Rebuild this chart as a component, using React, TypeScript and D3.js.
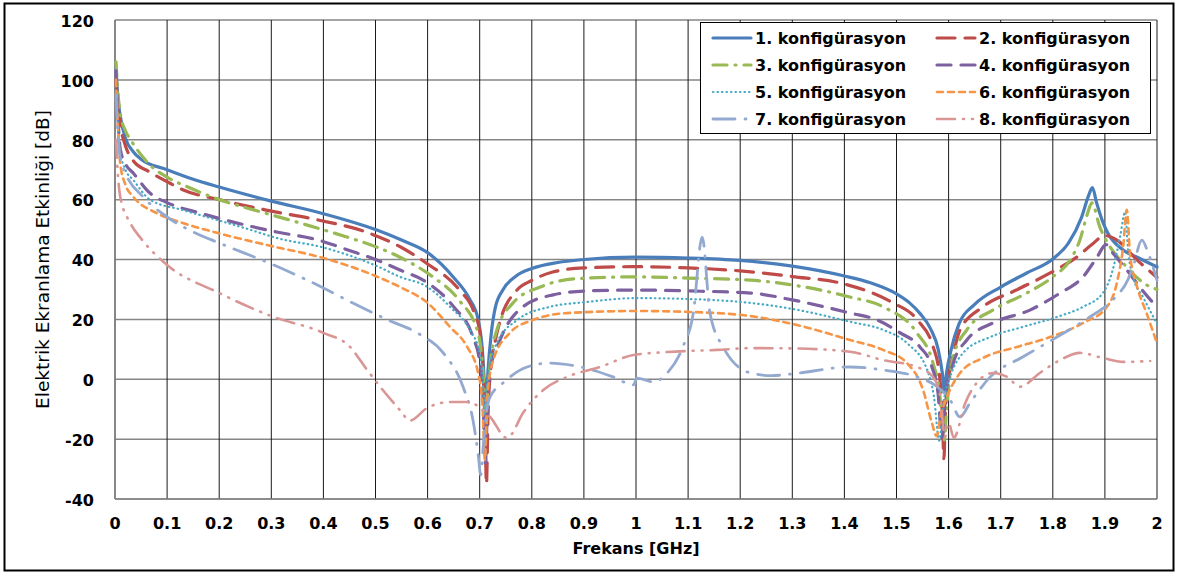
import React from 'react';
import * as d3 from 'd3';

// Frequency (GHz) vs. shielding effectiveness (dB) for each configuration
const konf1: [number, number][] = [
  [0.002, 104], [0.005, 95], [0.01, 88], [0.02, 80.5], [0.035, 76], [0.05, 73.5], [0.1, 70], [0.15, 66.8],
  [0.2, 64.2], [0.3, 59.5], [0.4, 55.3], [0.5, 50], [0.55, 46.5], [0.6, 42.3], [0.65, 34], [0.68, 27],
  [0.697, 20], [0.705, 10], [0.71, -3], [0.713, -6], [0.716, 3], [0.722, 15], [0.73, 24], [0.745, 30],
  [0.77, 34.5], [0.8, 37], [0.85, 39], [0.9, 40], [1.0, 40.8], [1.1, 40.5], [1.2, 39.7], [1.3, 37.8],
  [1.4, 34.5], [1.45, 32.2], [1.5, 28.5], [1.525, 25.5], [1.545, 22], [1.565, 17], [1.58, 10], [1.588, 2], [1.592, -4],
  [1.596, 2], [1.605, 10], [1.62, 18.5], [1.65, 25], [1.7, 30.8], [1.75, 35.5], [1.8, 40.2], [1.83, 45.5],
  [1.855, 54], [1.868, 61], [1.876, 64], [1.884, 59], [1.895, 53], [1.905, 49], [1.935, 43.2], [1.965, 40.5],
  [2.0, 37.5],
];
const konf2: [number, number][] = [
  [0.002, 100], [0.005, 92], [0.01, 85], [0.02, 78], [0.035, 73], [0.067, 69.2], [0.1, 66], [0.13, 63.3],
  [0.2, 60], [0.29, 56.5], [0.39, 53.2], [0.48, 49.3], [0.55, 44], [0.6, 38.5], [0.66, 30], [0.69, 22],
  [0.7, 16], [0.706, 5], [0.71, -15], [0.713, -35], [0.716, -12], [0.722, 5], [0.73, 13], [0.74, 20],
  [0.77, 29.5], [0.8, 33], [0.84, 35.8], [0.9, 37.2], [1.0, 37.6], [1.1, 37.2], [1.2, 36.2], [1.3, 34.3],
  [1.4, 31.8], [1.49, 25.8], [1.54, 19.8], [1.57, 11], [1.582, 2], [1.588, -12], [1.591, -26.5], [1.594, -10],
  [1.6, 0], [1.61, 9], [1.622, 16.5], [1.666, 24.2], [1.73, 29.8], [1.795, 35.5], [1.846, 40.8], [1.875, 45],
  [1.9, 48], [1.923, 46.5], [1.962, 39.8], [2.0, 34],
];
const konf3: [number, number][] = [
  [0.002, 106], [0.005, 97], [0.01, 89], [0.02, 83], [0.03, 80], [0.067, 71.6], [0.1, 67.5], [0.14, 64.2],
  [0.2, 60], [0.28, 55.9], [0.355, 52.2], [0.445, 47.5], [0.5, 44.3], [0.55, 40.5], [0.61, 34.2], [0.66, 26.5],
  [0.697, 15.5], [0.705, 5], [0.71, -8], [0.712, -17], [0.715, -5], [0.72, 5], [0.733, 16.5], [0.764, 25.5],
  [0.816, 30.8], [0.88, 33.5], [1.0, 34.2], [1.1, 33.8], [1.22, 33.1], [1.3, 31.5], [1.41, 27.5], [1.474, 24.2],
  [1.539, 15.5], [1.57, 5.4], [1.583, -5], [1.591, -21], [1.597, -8], [1.609, 7.5], [1.635, 16.5], [1.685, 23.1],
  [1.75, 28.8], [1.8, 34.2], [1.833, 39.8], [1.852, 46.5], [1.866, 55], [1.875, 58.9], [1.89, 51], [1.91, 44.2],
  [1.935, 38.8], [1.98, 31.5], [2.0, 30],
];
const konf4: [number, number][] = [
  [0.002, 103], [0.005, 90], [0.01, 77], [0.02, 72], [0.035, 68.9], [0.067, 62.2], [0.1, 59], [0.163, 55.5],
  [0.227, 52.5], [0.31, 49.2], [0.39, 46.5], [0.45, 43], [0.5, 40], [0.547, 36.5], [0.6, 32.2], [0.65, 24.2],
  [0.687, 14.1], [0.7, 6], [0.706, -5], [0.711, -28], [0.715, -8], [0.72, 3], [0.739, 13.1], [0.783, 24.2],
  [0.841, 28.2], [0.906, 29.5], [1.0, 29.8], [1.1, 29.5], [1.22, 28.8], [1.3, 26.5], [1.411, 22.1], [1.463, 19.8],
  [1.507, 15.5], [1.545, 10.8], [1.568, 4.1], [1.58, -5], [1.587, -19.5], [1.594, -6], [1.609, 5.4], [1.635, 13.1],
  [1.685, 18.8], [1.756, 23.1], [1.814, 28.8], [1.858, 34.2], [1.885, 40.8], [1.902, 45], [1.915, 42.2], [1.942, 36.5],
  [1.967, 30.8], [2.0, 24],
];
const konf5: [number, number][] = [
  [0.002, 98], [0.005, 88], [0.01, 76], [0.02, 70], [0.035, 66.6], [0.067, 60], [0.13, 56.5], [0.196, 53.2],
  [0.26, 49.9], [0.31, 47.2], [0.4, 44], [0.5, 38], [0.547, 34.2], [0.6, 30.8], [0.643, 24.2], [0.681, 16.5],
  [0.7, 8.8], [0.706, 0], [0.71, -12], [0.714, -2], [0.72, 5], [0.733, 12.1], [0.772, 19.8], [0.835, 24.2],
  [0.906, 25.8], [1.0, 27.1], [1.1, 26.8], [1.22, 25.5], [1.3, 23.5], [1.411, 19.2], [1.474, 16.5], [1.52, 12.1],
  [1.559, 3.1], [1.572, -6], [1.582, -20.5], [1.59, -8], [1.603, 0.8], [1.628, 8.8], [1.68, 14.1], [1.743, 17.5],
  [1.808, 20.8], [1.858, 24.2], [1.896, 28.8], [1.915, 36.5], [1.929, 47.5], [1.939, 55.9], [1.944, 44], [1.954, 34.2],
  [1.973, 27.5], [2.0, 18.5],
];
const konf6: [number, number][] = [
  [0.002, 100], [0.005, 87], [0.01, 72], [0.02, 65], [0.035, 61], [0.08, 55.5], [0.13, 52.2], [0.196, 48.9],
  [0.3, 44.5], [0.4, 40.5], [0.5, 34.5], [0.547, 30.8], [0.6, 25.5], [0.643, 17.5], [0.676, 10.8], [0.697, 2.1],
  [0.705, -8], [0.71, -27], [0.715, -5], [0.726, 6.4], [0.758, 15.5], [0.802, 19.8], [0.868, 22.1], [1.0, 22.8],
  [1.1, 22.5], [1.22, 21.1], [1.3, 18.5], [1.411, 13.1], [1.474, 9.8], [1.52, 5.4], [1.551, -3.6], [1.568, -14.6],
  [1.577, -19], [1.585, -12], [1.597, -5.9], [1.622, 2.1], [1.666, 7.1], [1.731, 10.8], [1.795, 14.1], [1.858, 18.8],
  [1.904, 24.2], [1.923, 32.2], [1.935, 44.2], [1.942, 56.6], [1.948, 42.2], [1.962, 30.8], [1.98, 22.1], [2.0, 12],
];
const konf7: [number, number][] = [
  [0.002, 95], [0.005, 84], [0.01, 74], [0.02, 68.9], [0.054, 60.9], [0.1, 54.2], [0.15, 49.2], [0.2, 45.5],
  [0.3, 38.5], [0.4, 30.5], [0.45, 26], [0.528, 19.5], [0.58, 15.5], [0.63, 8.8], [0.668, -2.5], [0.687, -13.6],
  [0.697, -25], [0.702, -32], [0.707, -22], [0.713, -11], [0.72, -5.9], [0.745, -1.2], [0.791, 4.1], [0.835, 5.4],
  [0.893, 4.1], [0.956, 0.8], [0.995, -1.9], [1.002, 0.4], [1.033, -0.9], [1.06, 2.1], [1.09, 10.8], [1.11, 22.1],
  [1.127, 47.5], [1.142, 22.1], [1.167, 10.8], [1.22, 2.1], [1.26, 1.2], [1.3, 1.8], [1.411, 4.1], [1.474, 3.1],
  [1.539, 0.8], [1.578, -2.5], [1.603, -6.9], [1.622, -12.6], [1.641, -7.9], [1.68, 0.8], [1.743, 7.5], [1.808, 14.1],
  [1.871, 20.8], [1.915, 26.5], [1.944, 33.2], [1.954, 37.5], [1.971, 46.5], [1.983, 42.2], [2.0, 33],
];
const konf8: [number, number][] = [
  [0.002, 80], [0.005, 70], [0.01, 61], [0.03, 52], [0.05, 47], [0.1, 38.2], [0.2, 28.8], [0.3, 21.1],
  [0.4, 15.5], [0.45, 11], [0.484, 3.1], [0.514, -3.6], [0.547, -10.3], [0.566, -13.8], [0.599, -9.6], [0.643, -7.6],
  [0.676, -7.6], [0.72, -12.6], [0.752, -19.6], [0.758, -19], [0.783, -11.3], [0.822, -3.6], [0.868, 0.8], [0.931, 4.1],
  [0.995, 8.1], [1.06, 9.1], [1.156, 9.8], [1.22, 10.4], [1.3, 10.3], [1.411, 9.2], [1.474, 6.4], [1.539, 4.1],
  [1.57, 0.8], [1.584, -5.9], [1.593, -19.3], [1.6, -14.6], [1.61, -19.5], [1.632, -7.9], [1.654, -1.2], [1.685, 2.1],
  [1.712, 0.8], [1.737, -2.5], [1.775, 2.1], [1.814, 6.4], [1.852, 8.8], [1.896, 7.1], [1.935, 5.8], [1.987, 6.1],
];

const seriesNames = [
  '1. konfigürasyon', '2. konfigürasyon', '3. konfigürasyon', '4. konfigürasyon',
  '5. konfigürasyon', '6. konfigürasyon', '7. konfigürasyon', '8. konfigürasyon',
];
const seriesData = [konf1, konf2, konf3, konf4, konf5, konf6, konf7, konf8];

const xTickValues = [0, 0.1, 0.2, 0.3, 0.4, 0.5, 0.6, 0.7, 0.8, 0.9, 1, 1.1, 1.2, 1.3, 1.4, 1.5, 1.6, 1.7, 1.8, 1.9, 2];
const xTickLabels = ['0', '0.1', '0.2', '0.3', '0.4', '0.5', '0.6', '0.7', '0.8', '0.9', '1', '1.1', '1.2', '1.3', '1.4', '1.5', '1.6', '1.7', '1.8', '1.9', '2'];
const yTickValues = [-40, -20, 0, 20, 40, 60, 80, 100, 120];

// Line appearance per series (Office-style palette and dash types)
const styles = [
  { color: '#4A7EBB', width: 3.2, dash: 'none' },
  { color: '#BE4B48', width: 3.2, dash: '18 10' },
  { color: '#98B954', width: 3.2, dash: '14 8 1 8' },
  { color: '#7D60A0', width: 3.2, dash: '14 10' },
  { color: '#46AAC5', width: 2.2, dash: '0.5 4' },
  { color: '#F69546', width: 2.6, dash: '6 5' },
  { color: '#93A9D0', width: 2.8, dash: '22 10 1 10' },
  { color: '#D99694', width: 2.6, dash: '18 8 1 8 1 8' },
];

const X0 = 115, X1 = 1157, Y0 = 20, Y1 = 499;
const FONT = '"DejaVu Sans", Verdana, sans-serif';

export default function App() {
  const x = d3.scaleLinear().domain([0, 2]).range([X0, X1]);
  const y = d3.scaleLinear().domain([-40, 120]).range([Y1, Y0]);
  const line = d3.line<[number, number]>()
    .x(d => x(d[0]))
    .y(d => y(d[1]))
    .curve(d3.curveMonotoneX);

  const legendRows = [38, 65, 92, 119];
  const legendCols = [713, 937];

  return (
    <svg width={1179} height={576} style={{ position: 'absolute', left: 0, top: 0, background: '#fff' }}
      fontFamily={FONT}>
      <rect x={0} y={0} width={1179} height={576} fill="#fff" />
      <rect x={4.5} y={3.5} width={1169} height={567} fill="none" stroke="#000" strokeWidth={2} />

      {/* grid */}
      {yTickValues.map(v => (
        <line key={'gy' + v} x1={X0} x2={X1} y1={y(v)} y2={y(v)} stroke="#868686" strokeWidth={1.5} />
      ))}
      {xTickValues.map(v => (
        <line key={'gx' + v} x1={x(v)} x2={x(v)} y1={Y0} y2={Y1} stroke="#1a1a1a" strokeWidth={1} />
      ))}
      <line x1={X0} x2={X0} y1={Y0} y2={Y1} stroke="#868686" strokeWidth={1.5} />
      <line x1={X0} x2={X1} y1={Y1} y2={Y1} stroke="#868686" strokeWidth={1.5} />

      {/* tick labels */}
      {yTickValues.map(v => (
        <text key={'ty' + v} x={94} y={y(v) + 1} dy="0.36em" textAnchor="end" fontSize={16} fontWeight={700} fill="#000">{v}</text>
      ))}
      {xTickValues.map((v, i) => (
        <text key={'tx' + v} x={x(v)} y={523} dy="0.36em" textAnchor="middle" fontSize={16} fontWeight={700} fill="#000">{xTickLabels[i]}</text>
      ))}

      {/* axis titles */}
      <text x={x(1)} y={548} dy="0.36em" textAnchor="middle" fontSize={16} fontWeight={700} fill="#000">Frekans [GHz]</text>
      <text transform={`translate(42,${(Y0 + Y1) / 2}) rotate(-90)`} textAnchor="middle" dy="0.36em" fontSize={18.5} fill="#000">
        Elektrik Ekranlama Etkinliği [dB]
      </text>

      {/* series */}
      {seriesData.map((d, i) => (
        <path key={'s' + i} d={line(d) || ''} fill="none" stroke={styles[i].color} strokeWidth={styles[i].width}
          strokeDasharray={styles[i].dash} strokeLinecap="round" strokeLinejoin="round" />
      ))}

      {/* legend */}
      <rect x={700.5} y={22.5} width={450} height={111} fill="#fff" stroke="#000" strokeWidth={1} />
      {seriesNames.map((name, i) => {
        const cx = legendCols[i % 2];
        const cy = legendRows[Math.floor(i / 2)];
        return (
          <g key={'lg' + i}>
            <line x1={cx} x2={cx + 38} y1={cy} y2={cy} stroke={styles[i].color} strokeWidth={styles[i].width}
              strokeDasharray={styles[i].dash} strokeLinecap="round" />
            <text x={cx + 42} y={cy} dy="0.36em" fontSize={16} fontWeight={700} fill="#000">{name}</text>
          </g>
        );
      })}
    </svg>
  );
}
